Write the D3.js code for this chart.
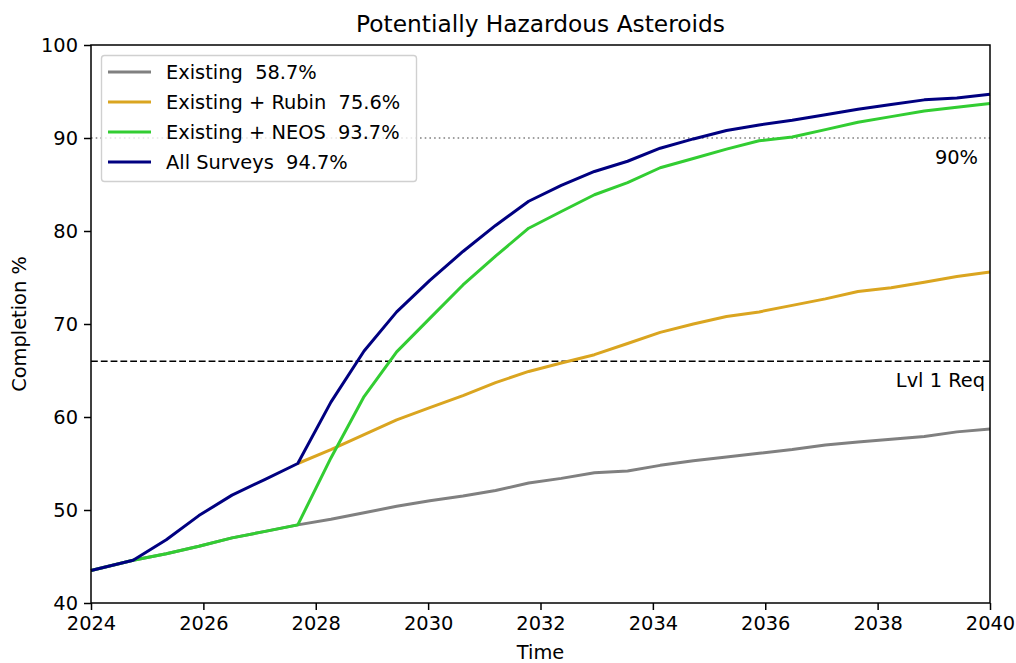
<!DOCTYPE html>
<html><head><meta charset="utf-8">
<script src="https://cdn.jsdelivr.net/npm/d3@7"></script>
<style>body{margin:0;background:#fff}svg{display:block}text{font-family:"DejaVu Sans",sans-serif;fill:#000}</style>
</head><body><svg id="c" width="1016" height="663"></svg>
<script>
const years = [2024.0, 2024.75, 2025.34, 2025.92, 2026.51, 2027.10, 2027.68, 2028.27, 2028.86, 2029.44, 2030.03, 2030.62, 2031.20, 2031.79, 2032.37, 2032.96, 2033.55, 2034.13, 2034.72, 2035.31, 2035.89, 2036.48, 2037.07, 2037.65, 2038.24, 2038.83, 2039.41, 2040.00];
const existing = [43.5, 44.6, 45.3, 46.1, 47.0, 47.7, 48.4, 49.0, 49.7, 50.4, 51.0, 51.5, 52.1, 52.9, 53.4, 54.0, 54.2, 54.8, 55.3, 55.7, 56.1, 56.5, 57.0, 57.3, 57.6, 57.9, 58.4, 58.7];
const rubin = [null, null, null, null, null, null, 55.0, 56.5, 58.1, 59.7, 61.0, 62.3, 63.7, 64.9, 65.8, 66.7, 67.9, 69.1, 70.0, 70.8, 71.3, 72.0, 72.7, 73.5, 73.9, 74.5, 75.1, 75.6];
const neos = [43.5, 44.6, 45.3, 46.1, 47.0, 47.7, 48.4, 55.6, 62.2, 67.0, 70.6, 74.2, 77.3, 80.3, 82.1, 83.9, 85.2, 86.8, 87.8, 88.8, 89.7, 90.1, 90.9, 91.7, 92.3, 92.9, 93.3, 93.7];
const allSurveys = [43.5, 44.6, 46.8, 49.4, 51.6, 53.3, 55.0, 61.6, 67.1, 71.3, 74.7, 77.8, 80.6, 83.2, 84.9, 86.4, 87.5, 88.9, 89.9, 90.8, 91.4, 91.9, 92.5, 93.1, 93.6, 94.1, 94.3, 94.7];
const seriesNames = ["Existing  58.7%", "Existing + Rubin  75.6%", "Existing + NEOS  93.7%", "All Surveys  94.7%"];
const seriesColors = ["#808080", "#DAA520", "#32CD32", "#000080"];
const xTicks = [2024, 2026, 2028, 2030, 2032, 2034, 2036, 2038, 2040];
const yTicks = [40, 50, 60, 70, 80, 90, 100];
const refLines = [{v: 90, label: "90%"}, {v: 66, label: "Lvl 1 Req"}];

const FS = 19.4;
const svg = d3.select("#c");
const L = 91, R = 990, T = 45, B = 603;
const x = d3.scaleLinear().domain([2024, 2040]).range([L, R]);
const y = d3.scaleLinear().domain([40, 100]).range([B, T]);

// reference lines
svg.append("line").attr("x1", L).attr("x2", R).attr("y1", y(refLines[0].v)).attr("y2", y(refLines[0].v))
  .attr("stroke", "#808080").attr("stroke-width", 1.5).attr("stroke-dasharray", "1.6,3.1");
svg.append("line").attr("x1", L).attr("x2", R).attr("y1", y(refLines[1].v)).attr("y2", y(refLines[1].v))
  .attr("stroke", "#000").attr("stroke-width", 1.5).attr("stroke-dasharray", "6.8,3");

const allData = [existing, rubin, neos, allSurveys];
const line = d3.line().defined(d => d[1] != null).x(d => x(d[0])).y(d => y(d[1]));
allData.forEach((s, i) => {
  svg.append("path").datum(years.map((yr, k) => [yr, s[k]]))
    .attr("d", line).attr("fill", "none").attr("stroke", seriesColors[i])
    .attr("stroke-width", 3).attr("stroke-linejoin", "round").attr("stroke-linecap", "butt");
});

// ref labels
svg.append("text").attr("x", 978).attr("y", y(90) + 26).attr("text-anchor", "end").attr("font-size", FS).text(refLines[0].label);
svg.append("text").attr("x", 985).attr("y", y(66) + 26).attr("text-anchor", "end").attr("font-size", FS).text(refLines[1].label);

// axes
const xAxis = svg.append("g").attr("transform", `translate(0,${B})`)
  .call(d3.axisBottom(x).tickValues(xTicks).tickFormat(d3.format("d")).tickSize(7).tickPadding(6));
const yAxis = svg.append("g").attr("transform", `translate(${L},0)`)
  .call(d3.axisLeft(y).tickValues(yTicks).tickSize(7).tickPadding(6));
[xAxis, yAxis].forEach(g => {
  g.select(".domain").remove();
  g.selectAll("text").attr("font-size", FS).attr("font-family", "DejaVu Sans").attr("fill", "#000");
  g.selectAll("line").attr("stroke", "#000").attr("stroke-width", 1.5);
});
svg.append("rect").attr("x", L).attr("y", T).attr("width", R - L).attr("height", B - T)
  .attr("fill", "none").attr("stroke", "#000").attr("stroke-width", 1.5);

// labels
svg.append("text").attr("x", (L + R) / 2).attr("y", 32).attr("text-anchor", "middle").attr("font-size", 23.3).text("Potentially Hazardous Asteroids");
svg.append("text").attr("x", (L + R) / 2).attr("y", 659).attr("text-anchor", "middle").attr("font-size", FS).text("Time");
svg.append("text").attr("transform", `translate(26,${(T + B) / 2}) rotate(-90)`).attr("text-anchor", "middle").attr("font-size", FS).text("Completion %");

// legend
const lg = svg.append("g");
lg.append("rect").attr("x", 101.5).attr("y", 55.5).attr("width", 315).attr("height", 126).attr("rx", 3)
  .attr("fill", "#fff").attr("fill-opacity", 0.8).attr("stroke", "#d0d0d0").attr("stroke-width", 1.4);
seriesNames.forEach((n, i) => {
  const yy = 72 + i * 30;
  lg.append("line").attr("x1", 108).attr("x2", 151).attr("y1", yy).attr("y2", yy).attr("stroke", seriesColors[i]).attr("stroke-width", 3);
  lg.append("text").attr("x", 166).attr("y", yy + 7).attr("font-size", FS).style("white-space", "pre").text(n);
});
</script></body></html>
